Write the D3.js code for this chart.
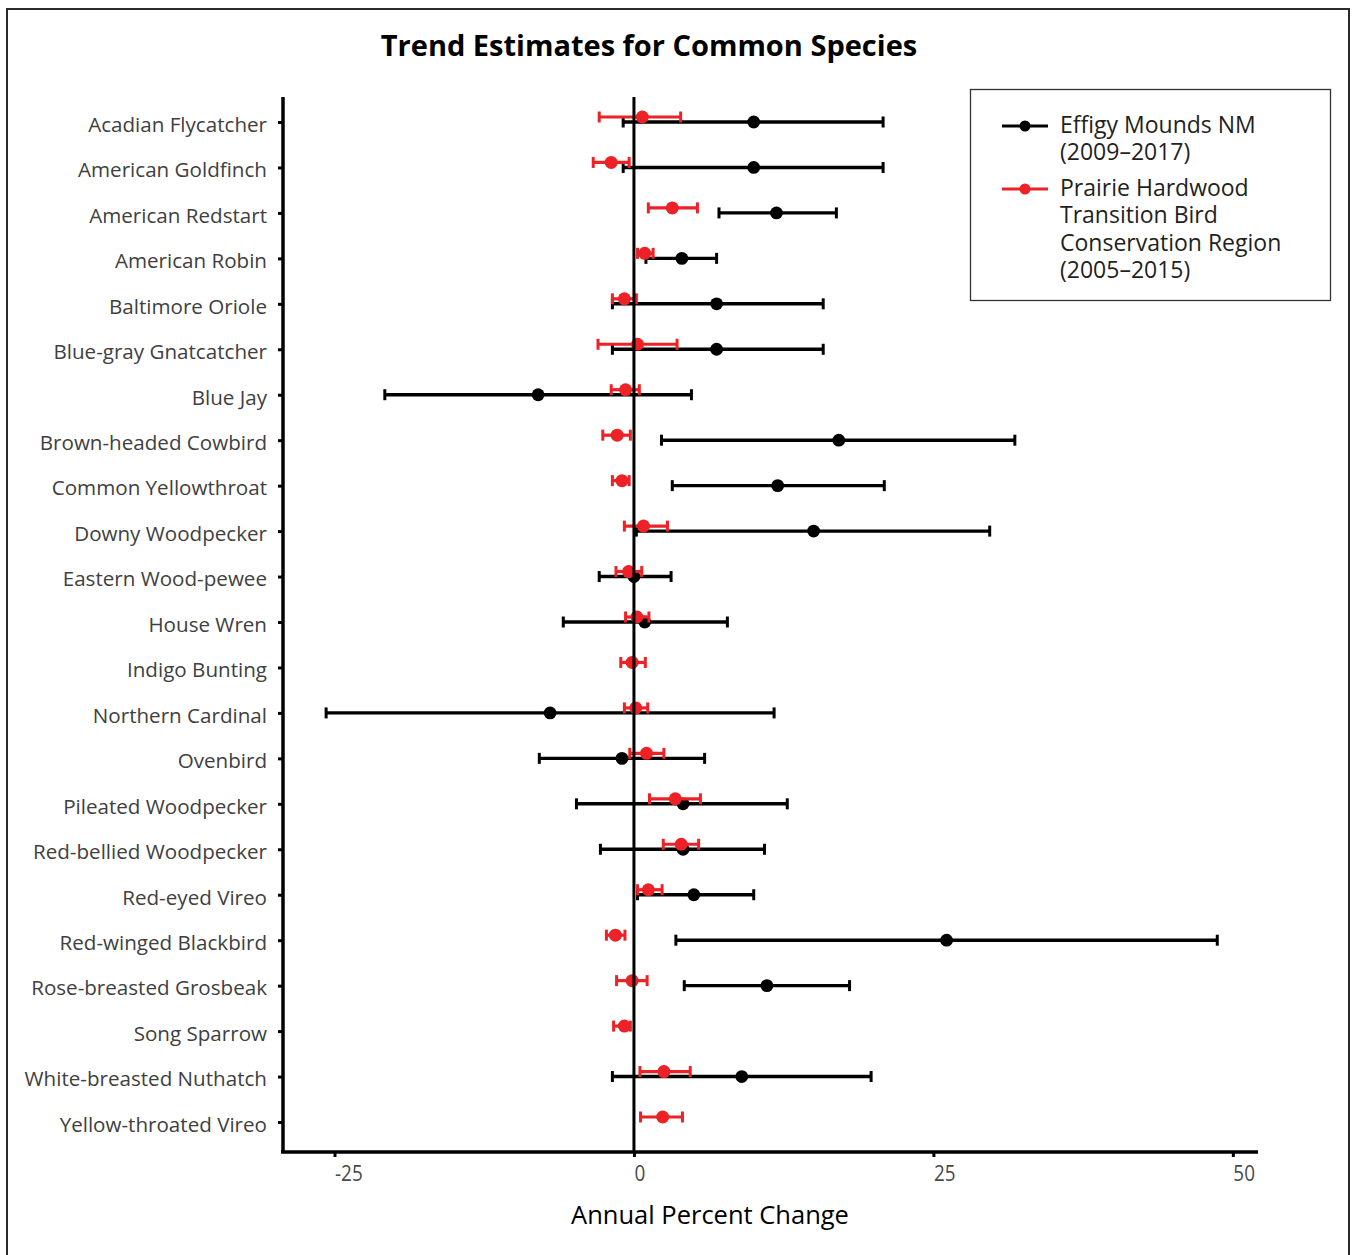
<!DOCTYPE html>
<html>
<head>
<meta charset="utf-8">
<script src="https://cdn.jsdelivr.net/npm/d3@7"></script>
<style>
  body { margin: 0; background: #fff; }
  svg text { font-family: "Open Sans", "Noto Sans", sans-serif; }
</style>
</head>
<body>
<div id="chart"></div>
<script>
// species, top to bottom
const species = [
  "Acadian Flycatcher", "American Goldfinch", "American Redstart", "American Robin",
  "Baltimore Oriole", "Blue-gray Gnatcatcher", "Blue Jay", "Brown-headed Cowbird",
  "Common Yellowthroat", "Downy Woodpecker", "Eastern Wood-pewee", "House Wren",
  "Indigo Bunting", "Northern Cardinal", "Ovenbird", "Pileated Woodpecker",
  "Red-bellied Woodpecker", "Red-eyed Vireo", "Red-winged Blackbird",
  "Rose-breasted Grosbeak", "Song Sparrow", "White-breasted Nuthatch", "Yellow-throated Vireo"
];

// Effigy Mounds NM (2009-2017): estimate, lower, upper (null = no estimate)
const effigyEst = [10.0, 10.0, 11.9, 4.0, 6.9, 6.9, -8.0, 17.1, 12.0, 15.0, 0.0, 0.9,
  null, -7.0, -1.0, 4.1, 4.1, 5.0, 26.1, 11.1, null, 9.0, null];
const effigyLo = [-0.9, -0.9, 7.1, 1.0, -1.8, -1.8, -20.8, 2.3, 3.2, 0.2, -2.9, -5.9,
  null, -25.7, -7.9, -4.8, -2.8, 0.3, 3.5, 4.2, null, -1.8, null];
const effigyHi = [20.8, 20.8, 16.9, 6.9, 15.8, 15.8, 4.8, 31.8, 20.9, 29.7, 3.1, 7.8,
  null, 11.7, 5.9, 12.8, 10.9, 10.0, 48.7, 18.0, null, 19.8, null];

// Prairie Hardwood Transition BCR (2005-2015)
const prairieEst = [0.7, -1.9, 3.2, 0.9, -0.8, 0.3, -0.7, -1.4, -1.0, 0.8, -0.45, 0.25,
  -0.15, 0.15, 1.05, 3.45, 3.95, 1.2, -1.55, -0.15, -0.8, 2.5, 2.4];
const prairieLo = [-2.9, -3.4, 1.2, 0.3, -1.8, -3.0, -1.9, -2.6, -1.8, -0.8, -1.5, -0.7,
  -1.1, -0.8, -0.35, 1.3, 2.45, 0.3, -2.3, -1.45, -1.7, 0.5, 0.55];
const prairieHi = [3.9, -0.4, 5.3, 1.6, 0.2, 3.6, 0.45, -0.3, -0.4, 2.8, 0.65, 1.25,
  0.95, 1.15, 2.5, 5.55, 5.4, 2.35, -0.75, 1.1, -0.3, 4.7, 4.05];

const xTicks = [-25, 0, 25, 50];
const legendLabels = [
  ["Effigy Mounds NM", "(2009\u20132017)"],
  ["Prairie Hardwood", "Transition Bird", "Conservation Region", "(2005\u20132015)"]
];

const W = 1352, H = 1255;
const BLACK = "#000", RED = "#ec2227";

const svg = d3.select("#chart").append("svg")
  .attr("width", W).attr("height", H);

// outer frame
svg.append("rect")
  .attr("x", 7).attr("y", 9).attr("width", 1342).attr("height", 1260)
  .attr("fill", "none").attr("stroke", "#2b2b2b").attr("stroke-width", 2);

// title
svg.append("text")
  .attr("x", 649).attr("y", 56)
  .attr("text-anchor", "middle")
  .attr("font-size", 29).attr("font-weight", "bold").attr("fill", "#000")
  .text("Trend Estimates for Common Species");

// scales
const xScale = d3.scaleLinear().domain([-29.3, 52.1]).range([283, 1258]);
const yScale = d3.scalePoint().domain(species).range([122, 1122]);
const PLOT_TOP = 97, PLOT_BOTTOM = 1152;

// y axis
const yAxisG = svg.append("g").attr("transform", "translate(283,0)")
  .call(d3.axisLeft(yScale).tickSize(5).tickPadding(11));
yAxisG.select(".domain").remove();
yAxisG.selectAll(".tick line").attr("stroke", "#000").attr("stroke-width", 3).attr("x2", -5);
yAxisG.selectAll(".tick text")
  .attr("font-family", "'Open Sans', 'Noto Sans', sans-serif")
  .attr("font-size", 20.6).attr("fill", "#404040").attr("dy", "0.45em");
svg.append("line")
  .attr("x1", 283).attr("x2", 283).attr("y1", PLOT_TOP).attr("y2", PLOT_BOTTOM)
  .attr("stroke", "#000").attr("stroke-width", 3.5);

// x axis (plain hyphen for negatives, as in the original)
const xAxisG = svg.append("g").attr("transform", `translate(0,${PLOT_BOTTOM})`)
  .call(d3.axisBottom(xScale).tickValues(xTicks).tickSize(5).tickPadding(5)
    .tickFormat(d => String(d)));
xAxisG.select(".domain").remove();
xAxisG.selectAll(".tick line").attr("stroke", "#000").attr("stroke-width", 3);
xAxisG.selectAll(".tick text")
  .attr("text-anchor", "start").attr("dx", 0).attr("dy", "0.85em")
  .attr("font-family", "'Liberation Sans Narrow', 'Liberation Sans', sans-serif")
  .attr("transform", "scale(0.84,1)")
  .attr("font-size", 22.5).attr("fill", "#4a4a4a");
svg.append("line")
  .attr("x1", 281).attr("x2", 1258).attr("y1", PLOT_BOTTOM).attr("y2", PLOT_BOTTOM)
  .attr("stroke", "#000").attr("stroke-width", 3.5);

svg.append("text")
  .attr("x", 710).attr("y", 1224)
  .attr("text-anchor", "middle").attr("font-size", 25.5).attr("fill", "#000")
  .text("Annual Percent Change");

// error bar series
function drawSeries(est, lo, hi, color, dy, r, sw, cls) {
  const rows = species.map((s, i) => ({ s, est: est[i], lo: lo[i], hi: hi[i] }))
    .filter(d => d.est !== null);
  const g = svg.append("g").attr("class", cls);
  const capH = 5.5;
  g.selectAll("line.bar").data(rows).join("line").attr("class", "bar")
    .attr("x1", d => xScale(d.lo)).attr("x2", d => xScale(d.hi))
    .attr("y1", d => yScale(d.s) + dy).attr("y2", d => yScale(d.s) + dy)
    .attr("stroke", color).attr("stroke-width", sw);
  g.selectAll("line.capL").data(rows).join("line").attr("class", "capL")
    .attr("x1", d => xScale(d.lo)).attr("x2", d => xScale(d.lo))
    .attr("y1", d => yScale(d.s) + dy - capH).attr("y2", d => yScale(d.s) + dy + capH)
    .attr("stroke", color).attr("stroke-width", 3);
  g.selectAll("line.capR").data(rows).join("line").attr("class", "capR")
    .attr("x1", d => xScale(d.hi)).attr("x2", d => xScale(d.hi))
    .attr("y1", d => yScale(d.s) + dy - capH).attr("y2", d => yScale(d.s) + dy + capH)
    .attr("stroke", color).attr("stroke-width", 3);
  g.selectAll("circle").data(rows).join("circle")
    .attr("cx", d => xScale(d.est)).attr("cy", d => yScale(d.s) + dy)
    .attr("r", r).attr("fill", color);
}

drawSeries(effigyEst, effigyLo, effigyHi, BLACK, 0, 6.4, 3.4, "effigy");
drawSeries(prairieEst, prairieLo, prairieHi, RED, -5, 6.5, 3.2, "prairie");

// zero reference line on top
svg.append("line")
  .attr("x1", xScale(0)).attr("x2", xScale(0))
  .attr("y1", PLOT_TOP).attr("y2", PLOT_BOTTOM)
  .attr("stroke", "#000").attr("stroke-width", 3);

// legend
const legend = svg.append("g").attr("class", "legend");
legend.append("rect")
  .attr("x", 970.5).attr("y", 89.5).attr("width", 360).attr("height", 211)
  .attr("fill", "#fff").attr("stroke", "#333").attr("stroke-width", 1.3);
const legendColors = [BLACK, RED];
const legendY = [126, 189];
legendLabels.forEach((lines, i) => {
  const y = legendY[i];
  legend.append("line")
    .attr("x1", 1002).attr("x2", 1048).attr("y1", y).attr("y2", y)
    .attr("stroke", legendColors[i]).attr("stroke-width", 3);
  legend.append("circle").attr("cx", 1025).attr("cy", y).attr("r", 5.5)
    .attr("fill", legendColors[i]);
  lines.forEach((ln, j) => {
    legend.append("text")
      .attr("x", 1060).attr("y", y + 7 + j * 27.3)
      .attr("font-size", 23).attr("fill", "#231f20")
      .text(ln);
  });
});
</script>
</body>
</html>
